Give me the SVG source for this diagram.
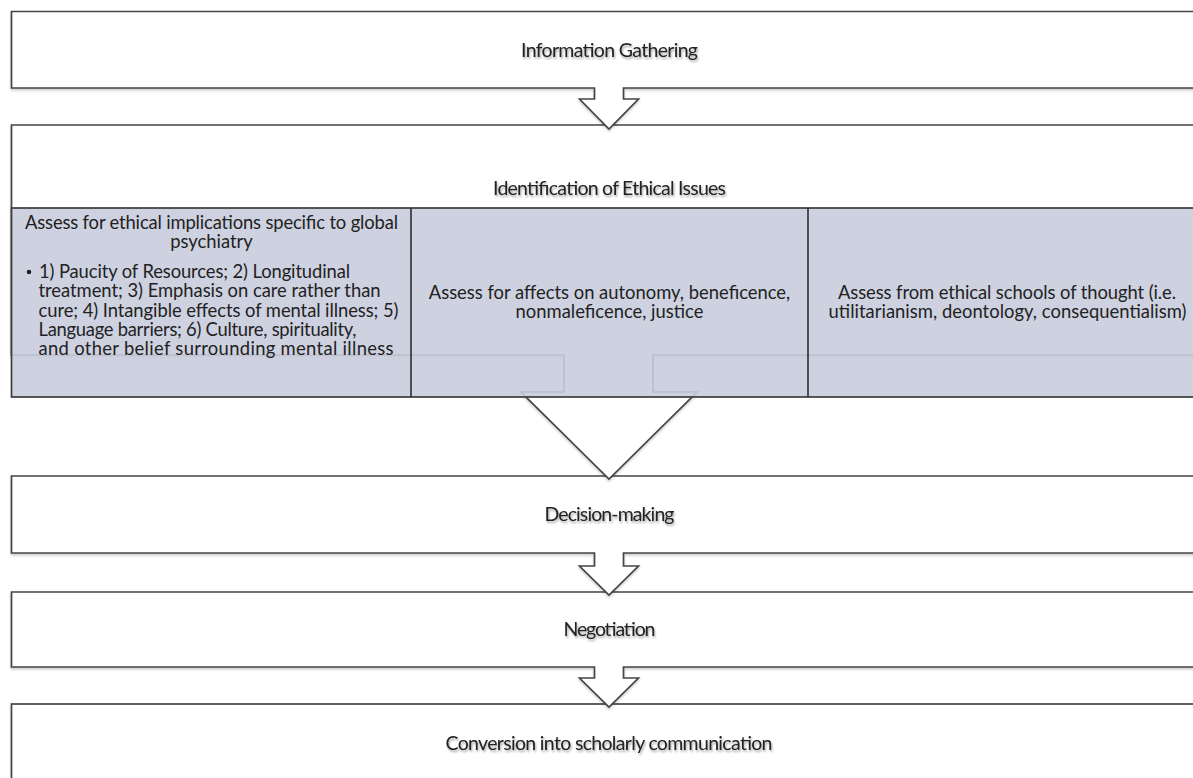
<svg xmlns="http://www.w3.org/2000/svg" width="1193" height="778" viewBox="0 0 1193 778">
<defs>
<filter id="tsh" x="-10%" y="-50%" width="120%" height="200%">
<feDropShadow dx="1" dy="2" stdDeviation="1.2" flood-color="#000" flood-opacity="0.35"/>
</filter>
<filter id="bsh" x="-5%" y="-10%" width="110%" height="130%">
<feDropShadow dx="0" dy="2" stdDeviation="1.2" flood-color="#000" flood-opacity="0.18"/>
</filter>
</defs>
<style>
.box{fill:#ffffff;stroke:#454545;stroke-width:1.7;stroke-linejoin:miter}
.row{fill:rgb(201,204,221);fill-opacity:0.9;stroke:#3c3c3c;stroke-width:1.7}
.div{stroke:#2e2e2e;stroke-width:1.6}
.hd{font-family:Lato,"Open Sans",sans-serif;font-size:19.5px;fill:#222222;text-anchor:middle}
.ct{font-family:Lato,"Open Sans",sans-serif;font-size:18.4px;fill:#222222}
.mid{text-anchor:middle}
</style>

<g id="conversion" filter="url(#bsh)">
<rect class="box" x="11.5" y="704" width="1200" height="80"/>
</g>
<g id="conversion-label"><text class="hd" x="609" y="750" filter="url(#tsh)" textLength="327">Conversion into scholarly communication</text></g>

<g id="negotiation" filter="url(#bsh)">
<path class="box" d="M11.5,592 H1211 V667 H623.5 V678 H638.5 L609,707 L579.5,678 H594.5 V667 H11.5 Z"/>
</g>
<g id="negotiation-label"><text class="hd" x="609.5" y="636" filter="url(#tsh)" textLength="92">Negotiation</text></g>

<g id="decision-making" filter="url(#bsh)">
<path class="box" d="M11.5,476 H1211 V553 H623.5 V566 H638.5 L609,595 L579.5,566 H594.5 V553 H11.5 Z"/>
</g>
<g id="decision-label"><text class="hd" x="609.5" y="521" filter="url(#tsh)" textLength="130">Decision-making</text></g>

<g id="identification" filter="url(#bsh)">
<path class="box" d="M11.5,125 H1211 V355 H653 V392 H697 L609,479 L521,392 H564 V355 H11.5 Z"/>
</g>
<g id="identification-label"><text class="hd" x="609.5" y="195" filter="url(#tsh)" textLength="233">Identification of Ethical Issues</text></g>

<g id="ethical-row">
<rect class="row" x="11.5" y="208" width="1200" height="189"/>
<line class="div" x1="411" y1="208" x2="411" y2="397"/>
<line class="div" x1="808" y1="208" x2="808" y2="397"/>
</g>

<g id="cell-global-psychiatry">
<text class="ct mid" x="211.5" y="229" textLength="373">Assess for ethical implications specific to global</text>
<text class="ct mid" x="211.5" y="248">psychiatry</text>
<circle cx="29" cy="272" r="2.3" fill="#222222"/>
<text class="ct" x="39" y="278" textLength="311">1) Paucity of Resources; 2) Longitudinal</text>
<text class="ct" x="38.5" y="297" textLength="342">treatment; 3) Emphasis on care rather than</text>
<text class="ct" x="38.5" y="316.5" textLength="360">cure; 4) Intangible effects of mental illness; 5)</text>
<text class="ct" x="38.5" y="336" textLength="318">Language barriers; 6) Culture, spirituality,</text>
<text class="ct" x="38.5" y="355" textLength="355">and other belief surrounding mental illness</text>
</g>

<g id="cell-principles">
<text class="ct mid" x="609.5" y="299">Assess for affects on autonomy, beneficence,</text>
<text class="ct mid" x="609.5" y="318">nonmaleficence, justice</text>
</g>

<g id="cell-schools">
<text class="ct mid" x="1007" y="299" textLength="338">Assess from ethical schools of thought (i.e.</text>
<text class="ct mid" x="1007.5" y="318" textLength="358">utilitarianism, deontology, consequentialism)</text>
</g>

<g id="information-gathering" filter="url(#bsh)">
<path class="box" d="M11.5,11.5 H1211 V88 H623.5 V99 H638.5 L609,129 L579.5,99 H594.5 V88 H11.5 Z"/>
</g>
<g id="information-label"><text class="hd" x="609.5" y="57" filter="url(#tsh)" textLength="177">Information Gathering</text></g>

<g id="connectors"></g>
</svg>
